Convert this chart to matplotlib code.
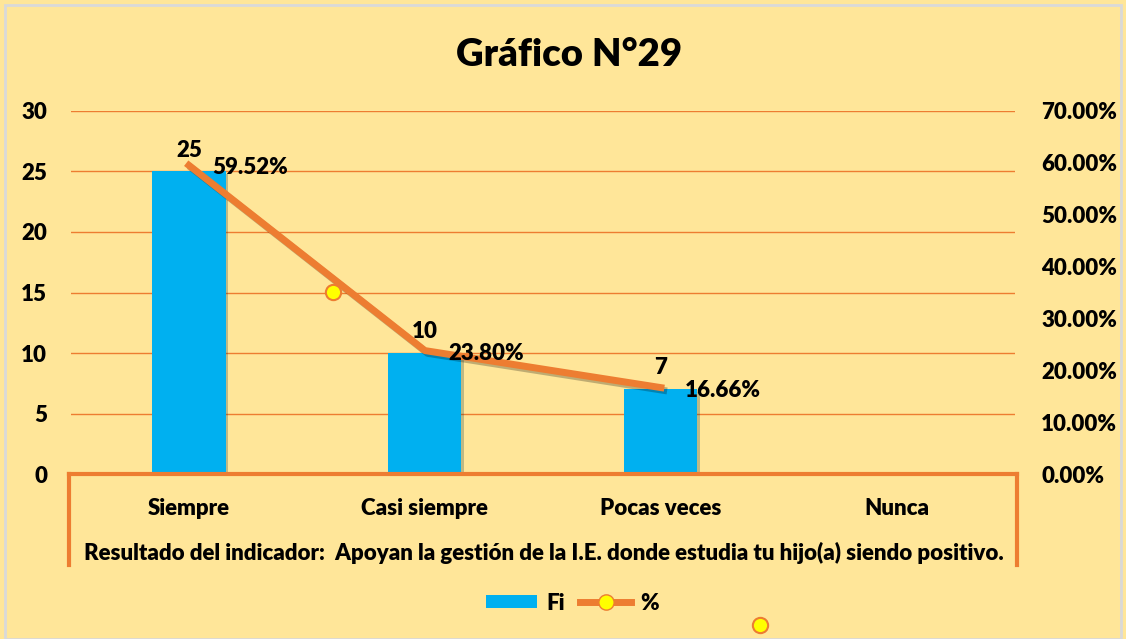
import matplotlib
matplotlib.use("Agg")
import matplotlib.pyplot as plt
from matplotlib.lines import Line2D
from matplotlib.patches import Patch, Rectangle
from matplotlib.ticker import FuncFormatter
import matplotlib.patheffects as pe

categories = ["Siempre", "Casi siempre", "Pocas veces", "Nunca"]
fi = [25, 10, 7, 0]
pct = [0.5952, 0.2380, 0.1666]
pct_labels = ["59.52%", "23.80%", "16.66%"]
fi_labels = ["25", "10", "7"]
# stray marker copies visible in the original picture (x in category units, y in %)
stray_x = [0.61, 2.42]
stray_y = [0.351, -0.291]

bg = "#FFE699"
blue = "#00B0F0"
orange = "#ED7D31"

plt.rcParams["font.family"] = ["Lato", "DejaVu Sans"]
W = "heavy"
plt.rcParams["font.weight"] = W
FS = 16

fig = plt.figure(figsize=(11.26, 6.39), dpi=100)
fig.patch.set_facecolor(bg)
fig.patches.append(Rectangle((0.004, 0.0), 0.992, 0.992, transform=fig.transFigure,
                             fill=False, edgecolor="#D9D9D9", linewidth=2))

ax = fig.add_axes([0.063, 0.2582, 0.8383, 0.5681])
ax.set_facecolor(bg)
x = list(range(len(categories)))
shadow = [pe.SimplePatchShadow(offset=(2, -2), alpha=0.25), pe.Normal()]
ax.bar(x, fi, width=0.31, color=blue, zorder=3, path_effects=shadow)
ax.set_xlim(-0.5, 3.5)
ax.set_ylim(0, 30)
ax.set_yticks(range(0, 31, 5))
ax.grid(axis="y", color=orange, linewidth=1)
ax.set_axisbelow(True)
for s in ax.spines.values():
    s.set_visible(False)
ax.tick_params(axis="y", length=0, pad=17, labelsize=FS)
ax.set_xticks(x)
ax.set_xticklabels(categories)
ax.tick_params(axis="x", length=0, pad=17, labelsize=FS)
for lab in ax.get_xticklabels() + ax.get_yticklabels():
    lab.set_fontweight(W)

for xi, v, lab in zip(x, fi, fi_labels):
    ax.text(xi, v + 0.9, lab, ha="center", va="bottom", fontsize=FS, fontweight=W, zorder=6)

# orange frame below the plot
frame_kw = dict(transform=ax.transAxes, color=orange, linewidth=3, clip_on=False, zorder=5)
ax.add_line(Line2D([-0.002, 1.002], [0, 0], **frame_kw))
ax.add_line(Line2D([-0.002, -0.002], [0, -0.25], **frame_kw))
ax.add_line(Line2D([1.002, 1.002], [0, -0.25], **frame_kw))

ax2 = ax.twinx()
ax2.set_ylim(0, 0.70)
ax2.set_yticks([i / 10 for i in range(8)])
ax2.yaxis.set_major_formatter(FuncFormatter(lambda v, p: f"{v * 100:.2f}%"))
ax2.tick_params(axis="y", length=0, pad=19, labelsize=FS)
for lab in ax2.get_yticklabels():
    lab.set_fontweight(W)
for s in ax2.spines.values():
    s.set_visible(False)
line_shadow = [pe.SimpleLineShadow(offset=(2, -2), alpha=0.25), pe.Normal()]
ax2.plot(x[:len(pct)], pct, color=orange, linewidth=5, zorder=4, path_effects=line_shadow)
ax2.plot(stray_x, stray_y, linestyle="none", marker="o", markersize=11,
         markerfacecolor="#FFFF00", markeredgecolor=orange, markeredgewidth=1.5,
         clip_on=False, zorder=5)
for xi, v, lab in zip(x, pct, pct_labels):
    ax2.text(xi + 0.1, v - 0.005, lab, ha="left", va="center", fontsize=FS, fontweight=W, zorder=6)

fig.text(0.505, 1 - 55 / 639, "Gráfico N°29", ha="center", va="center", fontsize=27.5, fontweight=W)
fig.text(0.4827, 1 - 553 / 639,
         "Resultado del indicador:  Apoyan la gestión de la I.E. donde estudia tu hijo(a) siendo positivo.",
         ha="center", va="center", fontsize=FS, fontweight=W)

handles = [Patch(facecolor=blue, label="Fi"),
           Line2D([], [], color=orange, linewidth=5, marker="o", markersize=11,
                  markerfacecolor="#FFFF00", markeredgecolor=orange, label="%")]
leg = fig.legend(handles=handles, loc="center", bbox_to_anchor=(0.5085, 1 - 603 / 639),
                 ncol=2, frameon=False, fontsize=FS, handlelength=2.3, handleheight=0.5,
                 columnspacing=0.7, handletextpad=0.4)
for t in leg.get_texts():
    t.set_fontweight(W)

fig.savefig("out.png", dpi=100, facecolor=bg)
